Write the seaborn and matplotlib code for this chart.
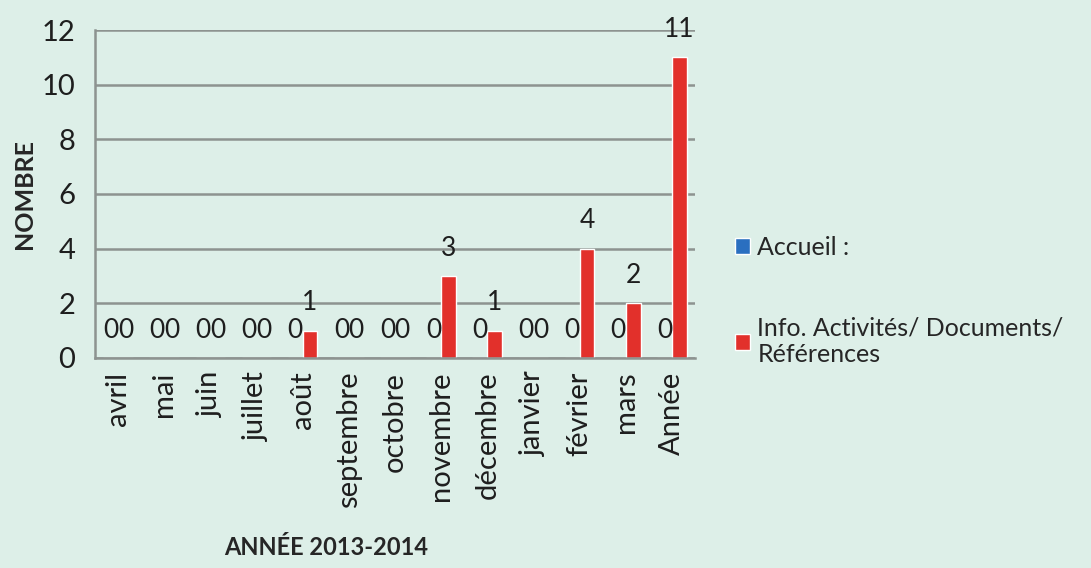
import pandas as pd
import matplotlib.pyplot as plt
import seaborn as sns

# Données
mois = ["avril", "mai", "juin", "juillet", "août", "septembre", "octobre",
        "novembre", "décembre", "janvier", "février", "mars", "Année"]
accueil = [0, 0, 0, 0, 0, 0, 0, 0, 0, 0, 0, 0, 0]
info_docs = [0, 0, 0, 0, 1, 0, 0, 3, 1, 0, 4, 2, 11]
series = ["Accueil :", "Info. Activités/ Documents/\nRéférences"]

df = pd.DataFrame({
    "mois": mois * 2,
    "valeur": accueil + info_docs,
    "serie": [series[0]] * len(mois) + [series[1]] * len(mois),
})

bg = "#ddefe8"
sns.set_style("white")
plt.rcParams["font.family"] = ["Lato", "DejaVu Sans"]

fig = plt.figure(figsize=(10.91, 5.68), dpi=100, facecolor=bg)
ax = fig.add_axes([0.087, 0.37, 0.55, 0.577])
ax.set_facecolor(bg)

sns.barplot(data=df, x="mois", y="valeur", hue="serie",
            palette=["#2a6fc0", "#e2302b"], width=0.64, ax=ax,
            saturation=1, legend=True)

for cont in ax.containers:
    ax.bar_label(cont, padding=11, fontsize=19, color="#1e1e1e", clip_on=False)

ax.set_ylim(0, 12)
ax.set_xlim(-0.5, len(mois) - 0.5)
ax.set_yticks(range(0, 13, 2))
ax.yaxis.grid(True, color="#8d9390", lw=1.8)
ax.set_axisbelow(True)

for s in ["top", "right"]:
    ax.spines[s].set_visible(False)
for s in ["left", "bottom"]:
    ax.spines[s].set_color("#8d9390")
    ax.spines[s].set_linewidth(1.8)

ax.tick_params(axis="y", labelsize=21, length=6, width=1.5, color="#8d9390",
               pad=8, labelcolor="#1e1e1e")
ax.set_xticks([i - 0.5 for i in range(len(mois) + 1)], minor=True)
ax.tick_params(axis="x", which="minor", length=8, width=1.5, color="#8d9390")
ax.tick_params(axis="x", which="major", length=0, labelsize=21, pad=10,
               labelcolor="#1e1e1e", rotation=90)

ax.set_ylabel("NOMBRE", fontsize=18, fontweight="bold")
ax.yaxis.set_label_coords(-0.098, 0.5)
ax.set_xlabel("ANNÉE 2013-2014", fontsize=17, fontweight="bold")
ax.xaxis.set_label_coords(0.385, -0.545)

h, l = ax.get_legend_handles_labels()
ax.legend_.remove()
fig.legend(h, l, loc="center left", bbox_to_anchor=(0.653, 0.47),
           frameon=False, fontsize=18, handlelength=0.6, handleheight=0.6,
           handletextpad=0.3, labelspacing=2.3)

fig.savefig("out.png", dpi=100, facecolor=bg)
